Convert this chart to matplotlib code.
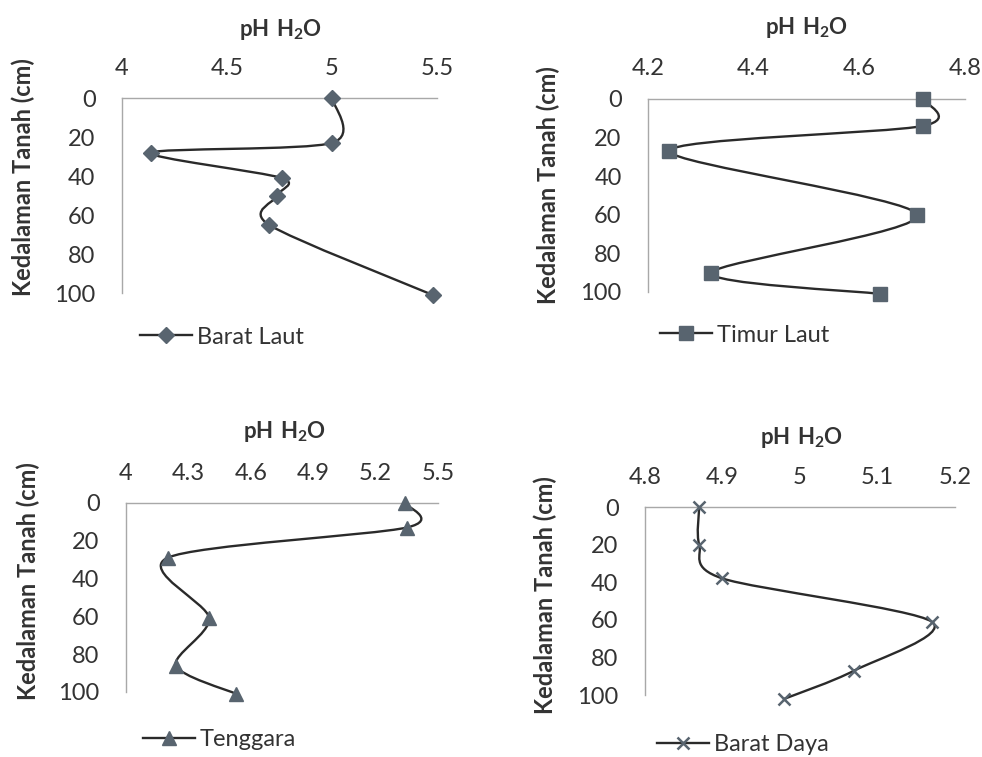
import matplotlib
matplotlib.use("Agg")
import matplotlib.pyplot as plt
import numpy as np
from matplotlib.path import Path
from matplotlib.patches import PathPatch
from matplotlib.lines import Line2D

plt.rcParams['font.family'] = ['Lato', 'DejaVu Sans']
plt.rcParams['mathtext.fontset'] = 'custom'
plt.rcParams['mathtext.rm'] = 'Lato'
plt.rcParams['mathtext.bf'] = 'Lato:bold'

# data (pH H2O vs soil depth in cm)
barat_laut_ph = [5.00, 5.00, 4.14, 4.76, 4.74, 4.70, 5.48]
barat_laut_depth = [0, 23, 28, 41, 50, 65, 101]

timur_laut_ph = [4.72, 4.72, 4.24, 4.71, 4.32, 4.64]
timur_laut_depth = [0, 14, 27, 60, 90, 101]

tenggara_ph = [5.34, 5.35, 4.20, 4.40, 4.24, 4.53]
tenggara_depth = [0, 13, 29, 61, 86, 101]

barat_daya_ph = [4.87, 4.87, 4.90, 5.17, 5.07, 4.98]
barat_daya_depth = [0, 20, 38, 61, 87, 102]

names = ["Barat Laut", "Timur Laut", "Tenggara", "Barat Daya"]
x_ticks = [[4, 4.5, 5, 5.5],
           [4.2, 4.4, 4.6, 4.8],
           [4, 4.3, 4.6, 4.9, 5.2, 5.5],
           [4.8, 4.9, 5, 5.1, 5.2]]
y_ticks = [0, 20, 40, 60, 80, 100]

series = [(barat_laut_ph, barat_laut_depth),
          (timur_laut_ph, timur_laut_depth),
          (tenggara_ph, tenggara_depth),
          (barat_daya_ph, barat_daya_depth)]
markers = [('D', 8, 1), ('s', 10, 1), ('^', 10, 1), ('x', 9, 1.8)]

# layout (figure fractions) and label placement (axes coords)
rects = [[0.1242, 0.6129, 0.3208, 0.2576],
         [0.6599, 0.6143, 0.3228, 0.2550],
         [0.1283, 0.0859, 0.3177, 0.2497],
         [0.6568, 0.0819, 0.3157, 0.2483]]
title_pos = [(0.505, 1.349), (0.50, 1.368), (0.507, 1.376), (0.505, 1.372)]
ylab_pos = [(-0.276, 0.595), (-0.278, 0.554), (-0.276, 0.587), (-0.285, 0.532)]
leg_pos = [(0.057, -0.226), (0.038, -0.223), (0.055, -0.254), (0.039, -0.266)]

line_col = '#2a2a2a'
mark_col = '#58646f'
text_col = '#333333'
axis_col = '#a8a8a8'


def smooth_path(x, y):
    # Catmull-Rom style bezier, like Excel's smoothed line
    pts = np.column_stack([x, y]).astype(float)
    n = len(pts)
    verts = [pts[0]]
    codes = [Path.MOVETO]
    for i in range(n - 1):
        p0 = pts[i - 1] if i > 0 else pts[i]
        p1 = pts[i]
        p2 = pts[i + 1]
        p3 = pts[i + 2] if i + 2 < n else p2
        verts += [p1 + (p2 - p0) / 7, p2 - (p3 - p1) / 7, p2]
        codes += [Path.CURVE4] * 3
    return Path(verts, codes)


fig = plt.figure(figsize=(9.82, 7.57), dpi=100)

for i in range(4):
    ax = fig.add_axes(rects[i])
    ph, depth = series[i]
    m, ms, mew = markers[i]

    patch = PathPatch(smooth_path(ph, depth), facecolor='none',
                      edgecolor=line_col, lw=1.7, clip_on=False, zorder=2)
    ax.add_patch(patch)
    ax.plot(ph, depth, linestyle='none', marker=m, ms=ms, mew=mew,
            color=mark_col, mec=mark_col, clip_on=False, zorder=3)

    ax.set_xlim(x_ticks[i][0], x_ticks[i][-1])
    ax.set_ylim(100, 0)
    ax.set_xticks(x_ticks[i])
    ax.set_xticklabels([f"{t:g}" for t in x_ticks[i]])
    ax.set_yticks(y_ticks)
    ax.xaxis.tick_top()
    ax.tick_params(axis='x', length=0, pad=14, labelsize=17,
                   labelcolor=text_col)
    ax.tick_params(axis='y', length=0, pad=19, labelsize=17,
                   labelcolor=text_col)
    for s in ['right', 'bottom']:
        ax.spines[s].set_visible(False)
    for s in ['left', 'top']:
        ax.spines[s].set_color(axis_col)
        ax.spines[s].set_linewidth(1)
    ax.patch.set_alpha(0)

    ax.text(title_pos[i][0], title_pos[i][1], r'$\mathbf{pH\ H_2O}$',
            transform=ax.transAxes, ha='center', va='center',
            fontsize=16, color=text_col)
    ax.set_ylabel("Kedalaman Tanah (cm)", fontsize=17, fontweight='bold',
                  color=text_col)
    ax.yaxis.set_label_coords(*ylab_pos[i])

    h = Line2D([], [], color=line_col, lw=1.7, marker=m, ms=ms, mew=mew,
               mfc=mark_col, mec=mark_col)
    ax.legend([h], [names[i]], loc='center left',
              bbox_to_anchor=leg_pos[i], frameon=False, fontsize=17,
              handlelength=2.2, handletextpad=0.2, borderpad=0,
              borderaxespad=0, labelcolor=text_col)

fig.savefig("out.png", dpi=100)
